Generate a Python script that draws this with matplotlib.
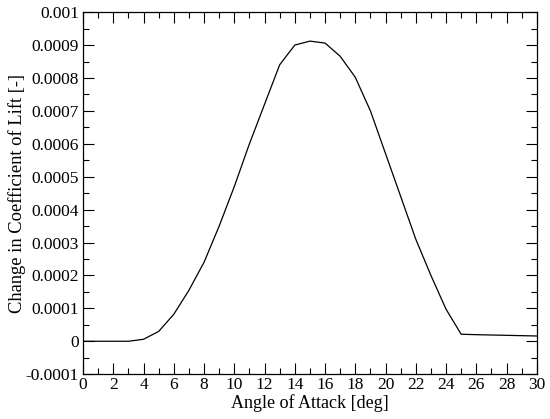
import numpy as np
import matplotlib
matplotlib.use('Agg')
import matplotlib.pyplot as plt
from matplotlib.ticker import MultipleLocator

# angle of attack [deg] and change in lift coefficient [-]
alpha = [0, 1, 2, 3, 4, 5, 6, 7, 8, 9, 10, 11, 12, 13, 14, 15, 16,
         17, 18, 19, 20, 21, 22, 23, 24, 25, 26, 27, 28, 29, 30]
dcl = [0.0, 0.0, 0.0, 0.0, 0.000006, 0.00003, 0.000082, 0.000155,
       0.00024, 0.00035, 0.00047, 0.0006, 0.00072, 0.00084, 0.0009,
       0.000912, 0.000906, 0.000866, 0.000802, 0.0007, 0.00057,
       0.00044, 0.00031, 0.0002, 0.0000973, 0.0000213, 0.00002,
       0.000019, 0.000018, 0.000017, 0.000016]

plt.rcParams['font.family'] = ['Liberation Serif', 'DejaVu Serif']
plt.rcParams['font.size'] = 12.5

fig = plt.figure(figsize=(5.5, 4.19), dpi=100)
ax = fig.add_axes([0.151, 0.107, 0.825, 0.864])
ax.plot(alpha, dcl, color='black', lw=0.9)

ax.set_xlim(0, 30)
ax.set_ylim(-0.0001, 0.001)
ax.xaxis.set_major_locator(MultipleLocator(2))
ax.xaxis.set_minor_locator(MultipleLocator(1))
ax.yaxis.set_major_locator(MultipleLocator(0.0001))
ax.yaxis.set_minor_locator(MultipleLocator(0.00005))

def yfmt(v, pos):
    if abs(v) < 1e-12:
        return '0'
    return ('%.4f' % v).rstrip('0')
ax.yaxis.set_major_formatter(plt.FuncFormatter(yfmt))

ax.tick_params(which='both', direction='in', top=True, right=True, width=0.8)
ax.tick_params(which='major', length=8)
ax.tick_params(which='minor', length=4)
ax.tick_params(axis='x', pad=2)
ax.tick_params(axis='y', pad=3)
for s in ax.spines.values():
    s.set_linewidth(0.9)

ax.set_xlabel('Angle of Attack [deg]', fontsize=13, labelpad=1)
ax.set_ylabel('Change in Coefficient of Lift [-]', fontsize=13.3, labelpad=0)

fig.savefig('out.png', dpi=100)
